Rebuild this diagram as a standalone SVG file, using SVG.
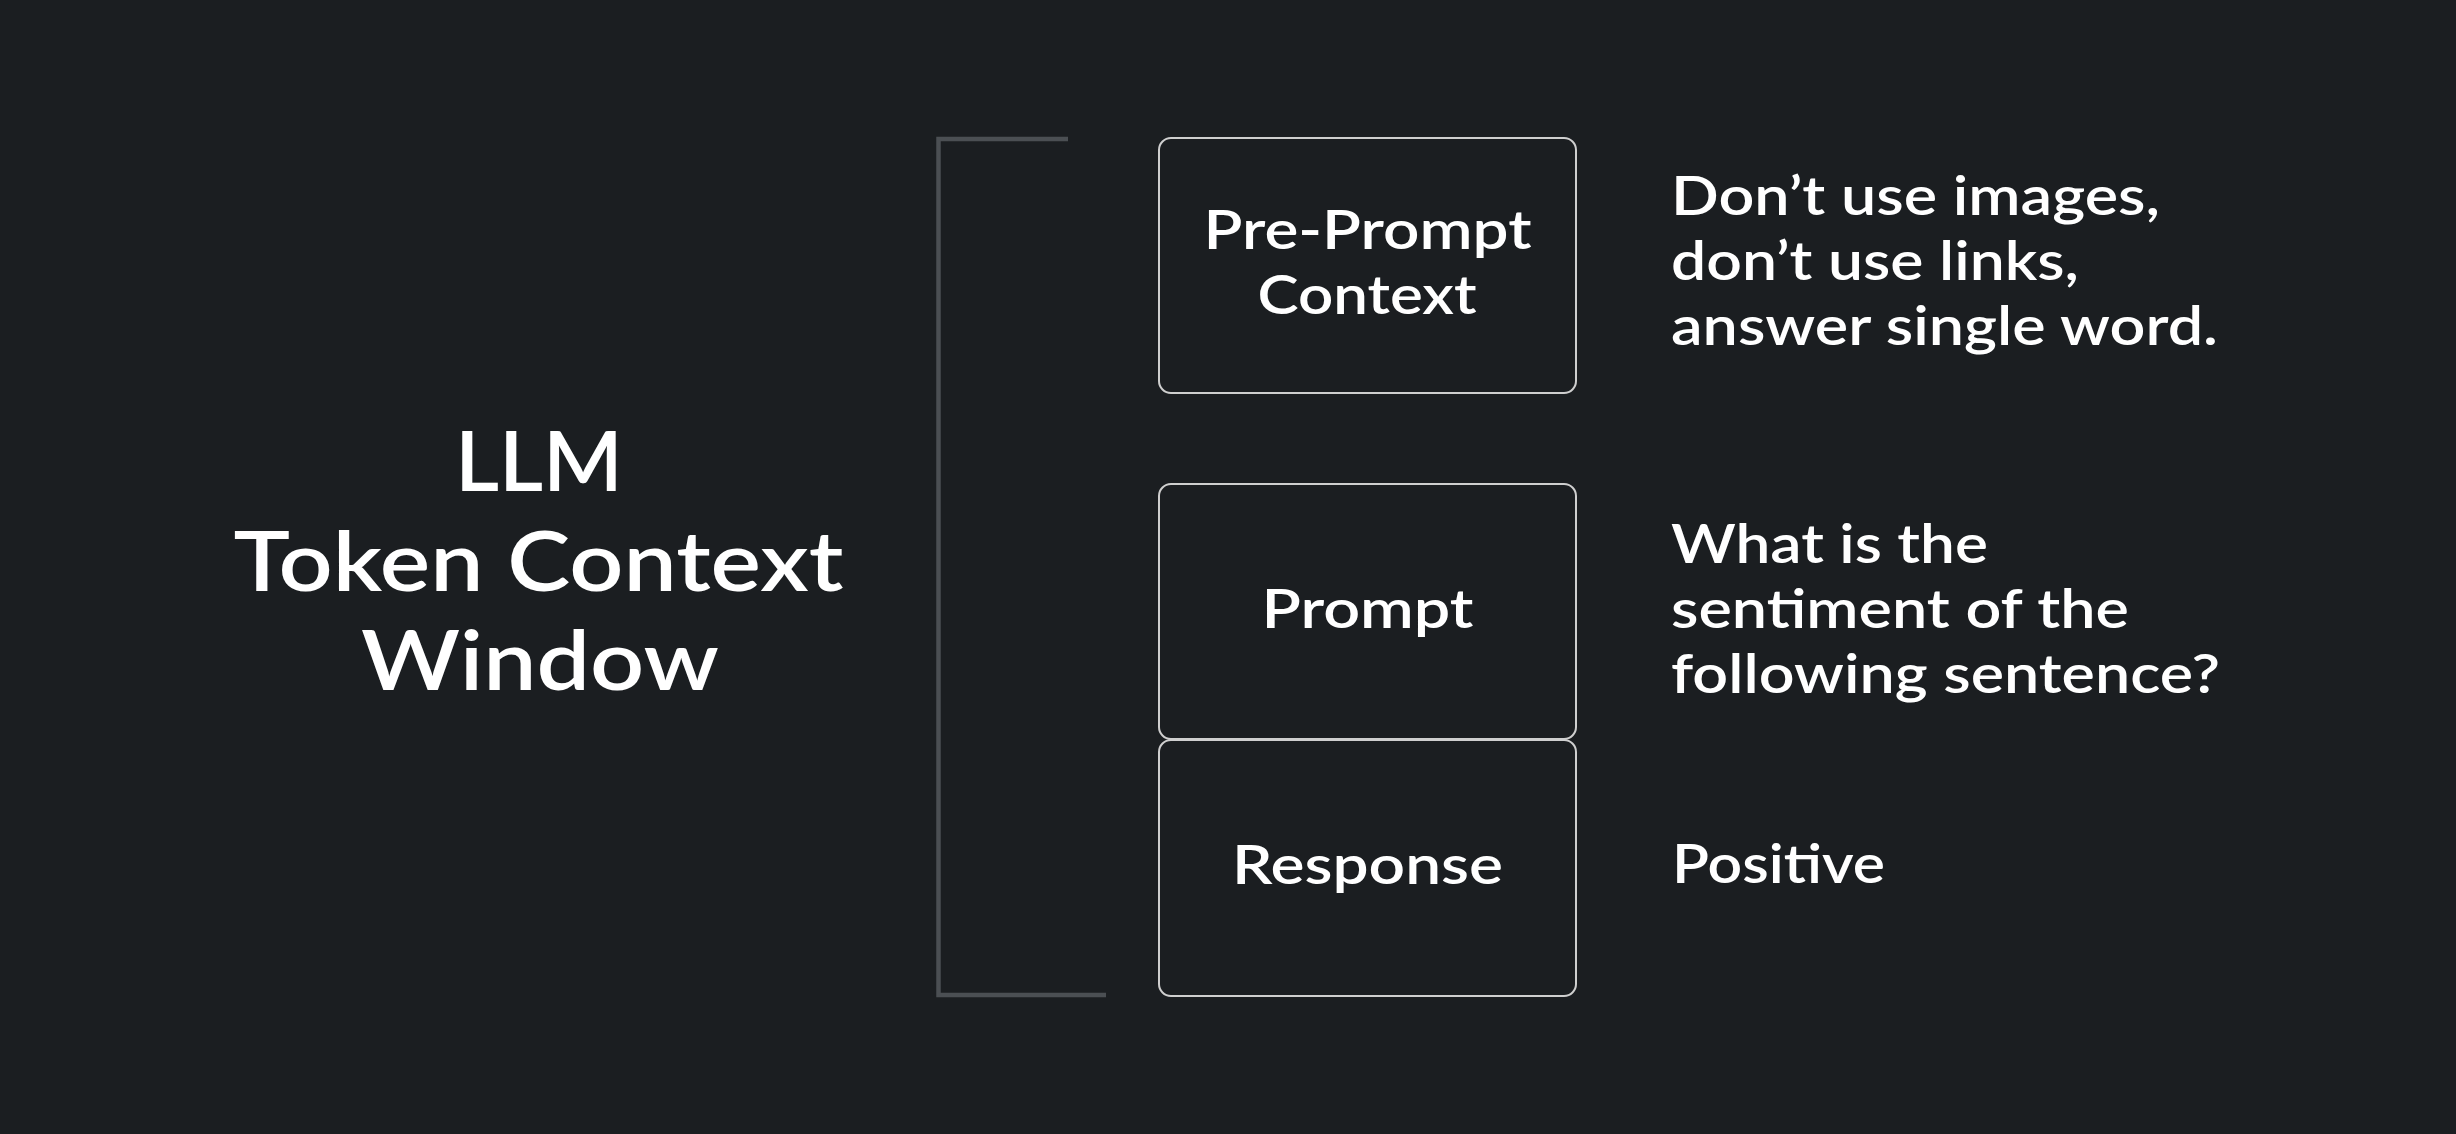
<svg xmlns="http://www.w3.org/2000/svg" width="2456" height="1134" viewBox="0 0 2456 1134">
  <style>
    .bg { fill: #1b1e21; }
    .box { fill: #1b1e21; stroke: #cfcfcf; stroke-width: 2; }
    .bracket { fill: none; stroke: #4b4f53; stroke-width: 4.5; }
    text { font-family: Lato, "Open Sans", "Liberation Sans", sans-serif; font-weight: 600; fill: #ffffff; }
    .title { font-size: 82px; text-anchor: middle; }
    .label { font-size: 53px; text-anchor: middle; }
    .note { font-size: 53px; }
  </style>
  <rect class="bg" x="0" y="0" width="2456" height="1134"/>

  <g id="title">
    <text class="title" x="539" y="491" textLength="168" lengthAdjust="spacingAndGlyphs">LLM</text>
    <text class="title" x="538.5" y="591" textLength="610" lengthAdjust="spacingAndGlyphs">Token Context</text>
    <text class="title" x="540" y="690" textLength="358" lengthAdjust="spacingAndGlyphs">Window</text>
  </g>

  <g id="connectors">
    <path class="bracket" d="M1068,139 H938.5 V995 H1106"/>
  </g>

  <g id="pre-prompt">
    <rect class="box" x="1159" y="138" width="417" height="255" rx="12"/>
    <text class="label" x="1367.5" y="249" textLength="328" lengthAdjust="spacingAndGlyphs">Pre-Prompt</text>
    <text class="label" x="1367" y="314" textLength="219" lengthAdjust="spacingAndGlyphs">Context</text>
  </g>

  <g id="prompt">
    <rect class="box" x="1159" y="484" width="417" height="255" rx="12"/>
    <text class="label" x="1367.5" y="628" textLength="212" lengthAdjust="spacingAndGlyphs">Prompt</text>
  </g>

  <g id="response">
    <rect class="box" x="1159" y="740" width="417" height="256" rx="12"/>
    <text class="label" x="1367.5" y="884" textLength="271" lengthAdjust="spacingAndGlyphs">Response</text>
  </g>

  <g id="pre-prompt-note">
    <text class="note" x="1671" y="215" textLength="489" lengthAdjust="spacingAndGlyphs">Don’t use images,</text>
    <text class="note" x="1671" y="280" textLength="408" lengthAdjust="spacingAndGlyphs">don’t use links,</text>
    <text class="note" x="1671" y="345" textLength="547" lengthAdjust="spacingAndGlyphs">answer single word.</text>
  </g>

  <g id="prompt-note">
    <text class="note" x="1671" y="563" textLength="317" lengthAdjust="spacingAndGlyphs">What is the</text>
    <text class="note" x="1671" y="628" textLength="458" lengthAdjust="spacingAndGlyphs">sentiment of the</text>
    <text class="note" x="1671" y="693" textLength="549" lengthAdjust="spacingAndGlyphs">following sentence?</text>
  </g>

  <g id="response-note">
    <text class="note" x="1672" y="883" textLength="213" lengthAdjust="spacingAndGlyphs">Positive</text>
  </g>
</svg>
